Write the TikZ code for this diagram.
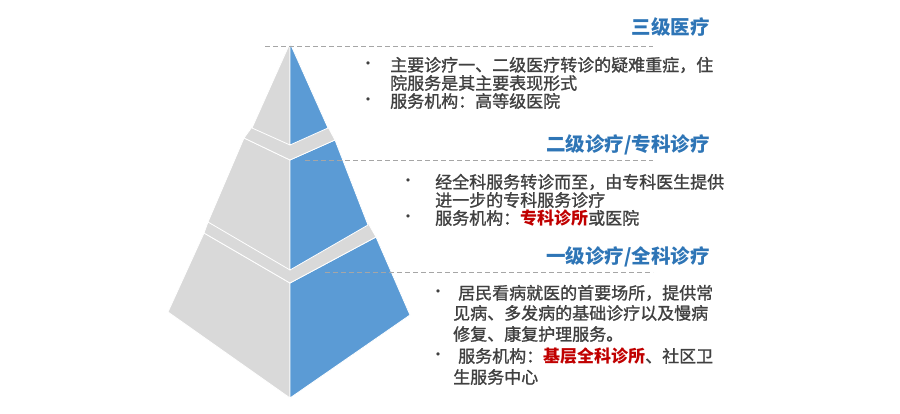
\documentclass[tikz,border=0pt]{standalone}
\usepackage{fontspec}
\setmainfont{Noto Sans CJK SC}
\newfontfamily\symfont{DejaVu Sans}
\newfontface\bodyfont{Noto Sans CJK SC}[FakeBold=1.2]
\definecolor{pgray}{HTML}{D9D9D9}
\definecolor{pblue}{HTML}{5B9BD5}
\definecolor{tblue}{HTML}{2E75B6}
\definecolor{tgray}{HTML}{404040}
\definecolor{tred}{HTML}{C00000}
\definecolor{dgray}{HTML}{A6A6A6}
\begin{document}
\begin{tikzpicture}[x=1pt,y=-1pt,
 face/.style={draw=white,line width=0.8pt,line join=round},
 grayface/.style={face,fill=pgray},
 blueface/.style={face,fill=pblue},
 title/.style={anchor=east,inner sep=0,font=\fontsize{19.5}{20}\selectfont\bfseries,text=tblue},
 body/.style={anchor=west,inner sep=0,font=\bodyfont\fontsize{17}{18}\selectfont,text=tgray},
 bul/.style={anchor=center,inner sep=0,font=\symfont\fontsize{11}{12}\selectfont,text=tgray},
 guide/.style={draw=dgray,line width=0.9pt,dash pattern=on 5pt off 3pt}]
\useasboundingbox (0,0) rectangle (900,414);
% ---- bottom tier
\filldraw[grayface] (204,233) -- (290,283) -- (290,398) -- (168,312) -- cycle;
\filldraw[blueface] (290,283) -- (376,237) -- (410,315) -- (290,398) -- cycle;
\filldraw[grayface] (204,233) -- (208,222) -- (290,262) -- (368,223) -- (376,237) -- (290,283) -- cycle;
% ---- middle tier
\filldraw[grayface] (244,138) -- (290,160) -- (290,270) -- (208,222) -- cycle;
\filldraw[blueface] (290,160) -- (335,140) -- (368,225) -- (290,270) -- cycle;
\filldraw[grayface] (244,138) -- (252,127) -- (290,140) -- (328,127) -- (335,140) -- (290,160) -- cycle;
% ---- top tier
\filldraw[grayface] (290,43) -- (252,128) -- (290,145) -- cycle;
\filldraw[blueface] (290,43) -- (328,128) -- (290,145) -- cycle;
% ---- guide lines
\coordinate (g1a) at (265,46); \coordinate (g1b) at (653,46);
\coordinate (g2a) at (305,160); \coordinate (g2b) at (653,160);
\coordinate (g3a) at (325,272); \coordinate (g3b) at (653,272);
\draw[guide] (g1a) -- (g1b);
\draw[guide] (g2a) -- (g2b);
\draw[guide] (g3a) -- (g3b);
% ---- titles
\node[title] (t3) at (710,27) {三级医疗};
\node[title] (t2) at (710,145) {二级诊疗/专科诊疗};
\node[title] (t1) at (710,257) {一级诊疗/全科诊疗};
% ---- section 3 (top)
\node[bul] (b31) at (368,65) {•};
\node[body] (s31) at (390,65) {主要诊疗一、二级医疗转诊的疑难重症，住};
\node[body] (s32) at (390,83) {院服务是其主要表现形式};
\node[bul] (b32) at (368,101) {•};
\node[body] (s33) at (390,101) {服务机构：高等级医院};
% ---- section 2
\node[bul] (b21) at (408,182) {•};
\node[body] (s21) at (435,182) {经全科服务转诊而至，由专科医生提供};
\node[body] (s22) at (435,200) {进一步的专科服务诊疗};
\node[bul] (b22) at (408,218) {•};
\node[body] (s23) at (435,218) {服务机构：{\normalfont\bfseries\fontsize{17}{18}\selectfont\color{tred}专科诊所}或医院};
% ---- section 1 (bottom)
\node[bul] (b11) at (438,293) {•};
\node[body] (s11) at (458,293) {居民看病就医的首要场所，提供常};
\node[body] (s12) at (453,313) {见病、多发病的基础诊疗以及慢病};
\node[body] (s13) at (453,334) {修复、康复护理服务。};
\node[bul] (b12) at (438,356) {•};
\node[body] (s14) at (458,356) {服务机构：{\normalfont\bfseries\fontsize{17}{18}\selectfont\color{tred}基层全科诊所}、社区卫};
\node[body] (s15) at (453,377) {生服务中心};
\end{tikzpicture}
\end{document}
